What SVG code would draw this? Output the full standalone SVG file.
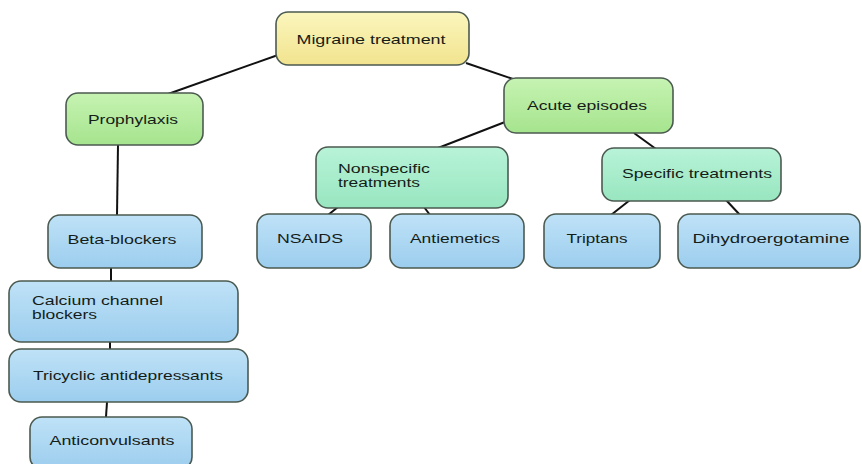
<svg xmlns="http://www.w3.org/2000/svg" width="862" height="464" viewBox="0 0 862 464">
<defs>
<linearGradient id="gY" x1="0" y1="0" x2="0" y2="1"><stop offset="0" stop-color="#fbf6bd"/><stop offset="1" stop-color="#f1e38e"/></linearGradient>
<linearGradient id="gG" x1="0" y1="0" x2="0" y2="1"><stop offset="0" stop-color="#c6f3b2"/><stop offset="1" stop-color="#a6e48e"/></linearGradient>
<linearGradient id="gM" x1="0" y1="0" x2="0" y2="1"><stop offset="0" stop-color="#b8f3d8"/><stop offset="1" stop-color="#98e6c0"/></linearGradient>
<linearGradient id="gB" x1="0" y1="0" x2="0" y2="1"><stop offset="0" stop-color="#bfe2f7"/><stop offset="1" stop-color="#9ccdee"/></linearGradient>
<style>
.box{stroke:#4b5a50;stroke-width:1.6}
.y{fill:url(#gY)}.g{fill:url(#gG)}.m{fill:url(#gM)}.b{fill:url(#gB)}
text{font-family:"Liberation Sans",Arial,sans-serif;font-size:13px;fill:#151d18}
.s{font-size:12px}
.c{text-anchor:middle}
.conn line{stroke:#111;stroke-width:2}
</style>
</defs>
<rect width="862" height="464" fill="#ffffff"/>
<g class="conn" id="connectors">
<line x1="278" y1="55" x2="168" y2="94"/>
<line x1="466" y1="63" x2="516" y2="80"/>
<line x1="505" y1="122" x2="438" y2="148"/>
<line x1="634" y1="133" x2="656" y2="149"/>
<line x1="118" y1="145" x2="117" y2="215"/>
<line x1="111" y1="268" x2="111" y2="281"/>
<line x1="110" y1="342" x2="110" y2="349"/>
<line x1="107" y1="402" x2="106" y2="417"/>
<line x1="338" y1="207" x2="328" y2="215"/>
<line x1="424" y1="207" x2="430" y2="215"/>
<line x1="630" y1="200" x2="611" y2="215"/>
<line x1="726" y1="200" x2="740" y2="215"/>
</g>
<g id="migraine"><rect class="box y" x="276" y="12" width="193" height="53" rx="12"/><text class="c" x="371" y="44" textLength="149" lengthAdjust="spacingAndGlyphs">Migraine treatment</text></g>
<g id="prophylaxis"><rect class="box g" x="66" y="93" width="137" height="52" rx="12"/><text class="c" x="133" y="124" textLength="90" lengthAdjust="spacingAndGlyphs">Prophylaxis</text></g>
<g id="acute"><rect class="box g" x="504" y="78" width="169" height="55" rx="12"/><text class="c" x="587" y="110" textLength="120" lengthAdjust="spacingAndGlyphs">Acute episodes</text></g>
<g id="nonspecific"><rect class="box m" x="316" y="147" width="192" height="61" rx="12"/><text class="s" x="338" y="173" textLength="92" lengthAdjust="spacingAndGlyphs">Nonspecific</text><text class="s" x="338" y="187" textLength="82" lengthAdjust="spacingAndGlyphs">treatments</text></g>
<g id="specific"><rect class="box m" x="602" y="148" width="179" height="53" rx="12"/><text class="c" x="697" y="178" textLength="150" lengthAdjust="spacingAndGlyphs">Specific treatments</text></g>
<g id="nsaids"><rect class="box b" x="257" y="214" width="114" height="54" rx="12"/><text class="c" x="310" y="243" textLength="66" lengthAdjust="spacingAndGlyphs">NSAIDS</text></g>
<g id="antiemetics"><rect class="box b" x="390" y="214" width="134" height="54" rx="12"/><text class="c" x="455" y="243" textLength="90" lengthAdjust="spacingAndGlyphs">Antiemetics</text></g>
<g id="triptans"><rect class="box b" x="544" y="214" width="116" height="54" rx="12"/><text class="c" x="597" y="243" textLength="61" lengthAdjust="spacingAndGlyphs">Triptans</text></g>
<g id="dihydro"><rect class="box b" x="678" y="214" width="182" height="54" rx="12"/><text class="c" x="771" y="243" textLength="157" lengthAdjust="spacingAndGlyphs">Dihydroergotamine</text></g>
<g id="beta"><rect class="box b" x="48" y="215" width="154" height="53" rx="12"/><text class="c" x="122" y="244" textLength="109" lengthAdjust="spacingAndGlyphs">Beta-blockers</text></g>
<g id="calcium"><rect class="box b" x="9" y="281" width="229" height="61" rx="12"/><text class="s" x="32" y="305" textLength="131" lengthAdjust="spacingAndGlyphs">Calcium channel</text><text class="s" x="32" y="319" textLength="65" lengthAdjust="spacingAndGlyphs">blockers</text></g>
<g id="tricyclic"><rect class="box b" x="9" y="349" width="239" height="53" rx="12"/><text class="c" x="128" y="380" textLength="190" lengthAdjust="spacingAndGlyphs">Tricyclic antidepressants</text></g>
<g id="anticonvulsants"><rect class="box b" x="30" y="417" width="162" height="52" rx="12"/><text class="c" x="112" y="445" textLength="125" lengthAdjust="spacingAndGlyphs">Anticonvulsants</text></g>
</svg>
